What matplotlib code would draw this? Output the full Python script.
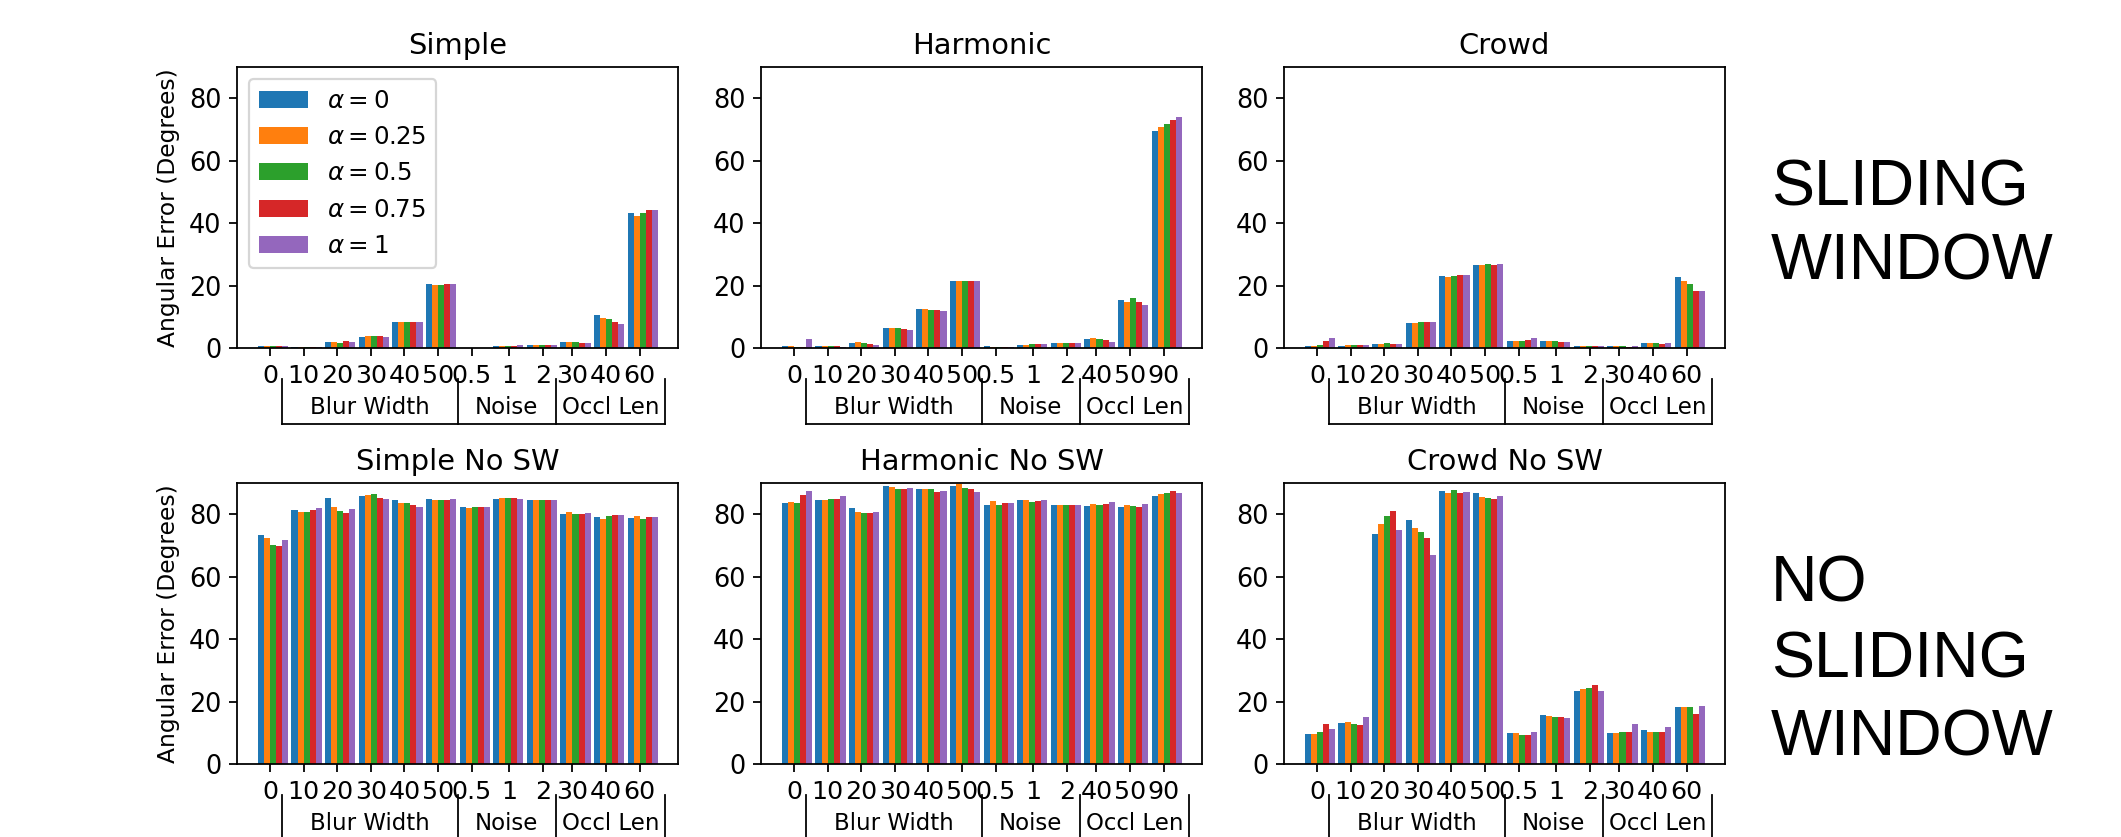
import matplotlib.pyplot as plt
import numpy as np

# alpha values (legend) and x tick labels
alphas = ['0', '0.25', '0.5', '0.75', '1']
ticks_simple = ['0', '10', '20', '30', '40', '50', '0.5', '1', '2', '30', '40', '60']
ticks_harmonic = ['0', '10', '20', '30', '40', '50', '0.5', '1', '2', '40', '50', '90']
groups = ['Blur Width', 'Noise', 'Occl Len']

# angular error, one row per condition, one column per alpha
simple = [[0.6, 0.6, 0.6, 0.6, 0.7], [0.4, 0.4, 0.4, 0.3, 0.3], [1.9, 1.8, 1.6, 2.2, 1.9],
          [3.5, 3.7, 3.7, 3.7, 3.6], [8.3, 8.3, 8.3, 8.3, 8.3], [20.6, 20.3, 20.3, 20.6, 20.4],
          [0.1, 0.1, 0.1, 0.1, 0.1], [0.8, 0.8, 0.8, 0.8, 0.9], [1.1, 1.1, 1.1, 1.1, 1.1],
          [2.0, 2.0, 1.8, 1.5, 1.6], [10.5, 9.7, 9.4, 8.4, 7.8], [43.3, 42.4, 43.1, 44.1, 44.1]]
harmonic = [[0.8, 0.6, 0.4, 0.2, 2.9], [0.5, 0.5, 0.5, 0.8, 0.3], [1.6, 2.0, 1.7, 1.4, 1.0],
            [6.3, 6.4, 6.3, 6.0, 5.7], [12.6, 12.5, 12.3, 12.2, 12.0], [21.5, 21.5, 21.5, 21.5, 21.5],
            [0.5, 0.3, 0.2, 0.4, 0.3], [1.0, 1.0, 1.2, 1.4, 1.4], [1.5, 1.5, 1.5, 1.5, 1.5],
            [3.0, 3.1, 3.0, 2.7, 2.0], [15.4, 14.8, 15.9, 14.8, 13.8], [69.4, 70.8, 71.6, 73.0, 73.9]]
crowd = [[0.8, 0.8, 1.0, 2.3, 3.1], [0.7, 0.9, 0.9, 1.1, 1.1], [1.4, 1.4, 1.6, 1.3, 1.3],
         [8.0, 8.0, 8.2, 8.2, 8.2], [23.1, 22.9, 23.2, 23.3, 23.3], [26.5, 26.5, 26.8, 26.6, 26.8],
         [2.1, 2.1, 2.1, 2.5, 3.1], [2.1, 2.1, 2.1, 1.9, 1.9], [0.8, 0.8, 0.8, 0.8, 0.8],
         [0.8, 0.8, 0.8, 0.4, 0.8], [1.6, 1.6, 1.6, 1.3, 1.7], [22.7, 21.6, 20.4, 18.3, 18.3]]
simple_nosw = [[73.3, 72.5, 70.3, 69.8, 71.6], [81.2, 80.8, 80.6, 81.4, 81.9], [85.2, 82.3, 81.0, 80.3, 81.8],
               [85.7, 86.0, 86.4, 85.2, 85.0], [84.5, 83.5, 83.6, 83.0, 82.4], [84.9, 84.7, 84.4, 84.6, 84.8],
               [82.2, 82.0, 82.2, 82.2, 82.3], [84.8, 85.3, 85.3, 85.3, 85.0], [84.7, 84.7, 84.7, 84.6, 84.7],
               [80.0, 80.8, 80.2, 80.1, 80.5], [79.1, 78.5, 79.4, 79.9, 79.9], [78.9, 79.5, 78.5, 79.0, 79.1]]
harmonic_nosw = [[83.5, 83.9, 83.5, 86.2, 87.5], [84.5, 84.6, 85.0, 84.8, 85.7], [81.9, 80.8, 80.5, 80.5, 80.8],
                 [89.0, 88.6, 88.2, 88.2, 88.4], [88.0, 88.2, 88.2, 87.2, 87.5], [88.9, 89.6, 88.4, 88.2, 87.2],
                 [83.1, 84.2, 82.9, 83.6, 83.6], [84.5, 84.4, 83.9, 84.3, 84.5], [82.9, 83.0, 83.0, 83.0, 83.0],
                 [82.7, 83.4, 83.1, 83.2, 84.0], [82.2, 82.9, 82.7, 82.3, 83.2], [85.9, 86.4, 86.8, 87.4, 86.7]]
crowd_nosw = [[9.7, 9.6, 10.2, 12.7, 11.3], [13.2, 13.6, 12.7, 12.4, 15.0], [73.7, 76.9, 79.4, 80.9, 74.9],
              [78.3, 75.6, 74.2, 72.3, 66.8], [87.3, 86.8, 87.6, 86.8, 87.2], [86.9, 85.5, 85.3, 85.0, 85.8],
              [9.8, 10.0, 9.3, 9.4, 10.1], [15.6, 15.4, 15.0, 14.9, 14.8], [23.5, 24.0, 24.3, 25.4, 23.5],
              [9.9, 9.8, 10.2, 10.4, 12.7], [10.9, 10.2, 10.2, 10.2, 12.0], [18.1, 18.1, 18.1, 15.9, 18.7]]

panels = [
    ('Simple', simple, ticks_simple), ('Harmonic', harmonic, ticks_harmonic), ('Crowd', crowd, ticks_simple),
    ('Simple No SW', simple_nosw, ticks_simple), ('Harmonic No SW', harmonic_nosw, ticks_harmonic),
    ('Crowd No SW', crowd_nosw, ticks_simple),
]

plt.rc('xtick', labelsize=11.4)
plt.rc('ytick', labelsize=11.5)

W, H = 2121, 837
fig = plt.figure(figsize=(W / 160, H / 160), dpi=160)

lefts = [237, 761, 1284]
bottoms = [348, 764]
aw, ah = 441, 281
w = 0.18
x = np.arange(12)
tick_pos = x.astype(float)
tick_pos[7:9] += 0.12
seps = [0.36, 5.6, 8.5, 11.75]

for n, (title, data, labels) in enumerate(panels):
    r, c = divmod(n, 3)
    ax = fig.add_axes([lefts[c] / W, (H - bottoms[r]) / H, aw / W, ah / H])
    vals = np.array(data).T
    for k in range(5):
        ax.bar(x + (k - 2) * w, vals[k], width=w, align='edge', color='C%d' % k,
               label=r'$\alpha = %s$' % alphas[k])
    ax.set_xlim(-0.98, 12.14)
    ax.set_ylim(0, 90)
    ax.set_yticks([0, 20, 40, 60, 80])
    ax.set_xticks(tick_pos)
    ax.set_xticklabels(labels)
    ax.set_title(title, fontsize=13)
    if c == 0:
        ax.set_ylabel('Angular Error (Degrees)', fontsize=10.5)
    if n == 0:
        ax.legend(loc='upper left', fontsize=11)

    # second level labels with separators
    trans = ax.get_xaxis_transform()
    for s in seps:
        ax.plot([s, s], [-0.11, -0.27], color='k', lw=0.8, transform=trans, clip_on=False)
    ax.plot([seps[0], seps[-1]], [-0.27, -0.27], color='k', lw=0.8, transform=trans, clip_on=False)
    for g, lab in enumerate(groups):
        ax.text((seps[g] + seps[g + 1]) / 2, -0.213, lab, ha='center', va='center',
                fontsize=10.3, transform=trans)

side = dict(fontsize=29, family='Liberation Sans', ha='left', va='baseline')
fig.text(1771 / W, 1 - 205 / H, 'SLIDING', **side)
fig.text(1771 / W, 1 - 280 / H, 'WINDOW', **side)
fig.text(1771 / W, 1 - 602 / H, 'NO', **side)
fig.text(1771 / W, 1 - 678 / H, 'SLIDING', **side)
fig.text(1771 / W, 1 - 755 / H, 'WINDOW', **side)

plt.savefig('out.png')
